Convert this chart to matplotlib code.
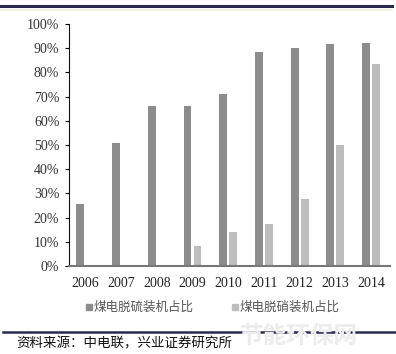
import numpy as np
import matplotlib.pyplot as plt
from matplotlib.lines import Line2D
from matplotlib.ticker import FuncFormatter

plt.rcParams['font.family'] = ['Liberation Serif', 'Noto Sans CJK SC', 'DejaVu Sans']

years = ['2006', '2007', '2008', '2009', '2010', '2011', '2012', '2013', '2014']
desulf = [25.5, 50.7, 66.1, 66.0, 71.1, 88.3, 90.0, 91.6, 92.1]
denitr = [0, 0, 0, 8.3, 13.9, 17.2, 27.7, 50.0, 83.3]
labels = ['煤电脱硫装机占比', '煤电脱硝装机占比']
source = '资料来源：中电联，兴业证券研究所'

c_dark = '#8c8c8c'
c_light = '#bdbdbd'

fig = plt.figure(figsize=(3.96, 3.54), dpi=100)
ax = fig.add_axes([69/396, 1 - 266/354, (390-69)/396, (266-24)/354])

index = np.arange(len(years))
w = 0.22
ax.bar(index - 0.14, desulf, w, color=c_dark)
ax.bar(index + 0.14, denitr, w, color=c_light)

ax.set_xlim(-0.46, 8.53)
ax.set_ylim(0, 100)
ax.set_yticks(np.arange(0, 101, 10))
ax.yaxis.set_major_formatter(FuncFormatter(lambda v, p: '%d%%' % v))
ax.set_xticks(index)
ax.set_xticklabels(years)
ax.tick_params(axis='x', length=0, pad=8, labelsize=10, labelcolor='#222222')
ax.tick_params(axis='y', length=3, width=0.8, direction='out', labelsize=10,
               labelcolor='#333333', pad=4)
for s in ['top', 'right']:
    ax.spines[s].set_visible(False)
ax.spines['left'].set_color('#111111')
ax.spines['bottom'].set_color('#777777')
ax.spines['bottom'].set_linewidth(1.5)

# legend drawn by hand: square + label
leg_y = 1 - 307/354
for x0, c, lab in zip([89, 235], (c_dark, c_light), labels):
    fig.add_artist(Line2D([x0/396], [leg_y], marker='s', ls='none', color=c, markersize=4.5))
    fig.text((x0 + 5)/396, leg_y, lab, family=['Noto Sans CJK SC'], fontsize=9,
             color='#555555', va='center')

# header / footer rules
fig.add_artist(Line2D([0, 392/396], [1 - 6/354] * 2, color='#2a2a50', lw=2.2))
fig.add_artist(Line2D([0, 392/396], [1 - 10/354] * 2, color='#f6f6e4', lw=1.5))
fig.add_artist(Line2D([3/396, 1], [1 - 332/354] * 2, color='#2a2a50', lw=1.8))

fig.text(240/396, 1 - 336/354, '节能环保网', family=['Noto Sans CJK SC'], fontsize=17,
         color='#ececec', va='center', weight='bold')
fig.text(16/396, 1 - 343/354, source, family=['Noto Sans CJK SC'], fontsize=9.7,
         color='#111111', va='center')

fig.savefig('out.png', dpi=100)
